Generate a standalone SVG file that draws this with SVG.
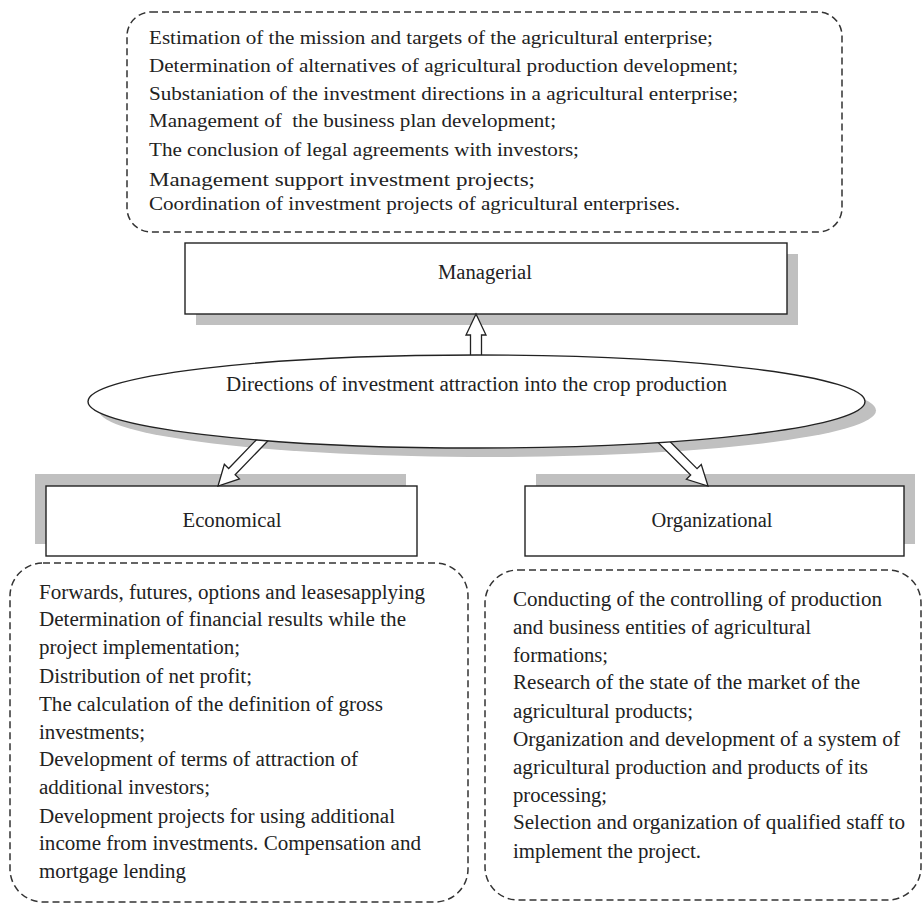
<svg xmlns="http://www.w3.org/2000/svg" width="923" height="905" viewBox="0 0 923 905">
<style>
  .t { font-family: "Liberation Serif", "Times New Roman", serif; fill: #222; }
  .s19 { font-size: 19px; }
  .s20 { font-size: 20px; }
  .dash { fill: #fff; stroke: #333; stroke-width: 1.5; stroke-dasharray: 7 4; }
  .box { fill: #fff; stroke: #222; stroke-width: 1.4; }
  .shadow { fill: #c0c0c0; stroke: none; }
  .arrow { fill: #fff; stroke: #222; stroke-width: 1.3; stroke-linejoin: miter; }
</style>
<rect width="923" height="905" fill="#fff"/>

<g id="shadows">
  <rect class="shadow" x="196" y="254" width="602" height="71"/>
  <rect class="shadow" x="35" y="474" width="371" height="70"/>
  <rect class="shadow" x="536" y="474" width="379" height="70"/>
  <ellipse class="shadow" cx="487.5" cy="410.5" rx="388.5" ry="46.5"/>
</g>

<g id="managerial-list">
  <rect class="dash" x="127" y="12" width="715" height="220" rx="24" ry="24"/>
  <text class="t s19" x="149" y="44" textLength="564" lengthAdjust="spacingAndGlyphs">Estimation of the mission and targets of the agricultural enterprise;</text>
  <text class="t s19" x="149" y="72" textLength="589" lengthAdjust="spacingAndGlyphs">Determination of alternatives of agricultural production development;</text>
  <text class="t s19" x="149" y="100" textLength="589" lengthAdjust="spacingAndGlyphs">Substaniation of the investment directions in a agricultural enterprise;</text>
  <text class="t s19" x="149" y="127" textLength="407" lengthAdjust="spacingAndGlyphs" xml:space="preserve">Management of  the business plan development;</text>
  <text class="t s19" x="149" y="156" textLength="430" lengthAdjust="spacingAndGlyphs">The conclusion of legal agreements with investors;</text>
  <text class="t s19" x="149" y="186" textLength="386" lengthAdjust="spacingAndGlyphs">Management support investment projects;</text>
  <text class="t s19" x="149" y="210" textLength="531" lengthAdjust="spacingAndGlyphs">Coordination of investment projects of agricultural enterprises.</text>
</g>

<g id="managerial">
  <rect class="box" x="185" y="243" width="602" height="71"/>
  <text class="t s20" x="485" y="279" text-anchor="middle" textLength="94" lengthAdjust="spacingAndGlyphs">Managerial</text>
</g>

<g id="economical">
  <rect class="box" x="46" y="486" width="371" height="70"/>
  <text class="t s20" x="232" y="527" text-anchor="middle" textLength="99" lengthAdjust="spacingAndGlyphs">Economical</text>
</g>

<g id="organizational">
  <rect class="box" x="525" y="486" width="379" height="70"/>
  <text class="t s20" x="712" y="527" text-anchor="middle" textLength="121" lengthAdjust="spacingAndGlyphs">Organizational</text>
</g>

<g id="economical-list">
  <rect class="dash" x="10" y="563" width="458" height="339" rx="33" ry="33"/>
  <text class="t s20" x="39" y="599" textLength="386" lengthAdjust="spacingAndGlyphs">Forwards, futures, options and leasesapplying</text>
  <text class="t s20" x="39" y="626" textLength="367" lengthAdjust="spacingAndGlyphs">Determination of financial results while the</text>
  <text class="t s20" x="39" y="654" textLength="201" lengthAdjust="spacingAndGlyphs">project implementation;</text>
  <text class="t s20" x="39" y="683" textLength="213" lengthAdjust="spacingAndGlyphs">Distribution of net profit;</text>
  <text class="t s20" x="39" y="711" textLength="344" lengthAdjust="spacingAndGlyphs">The calculation of the definition of gross</text>
  <text class="t s20" x="39" y="739" textLength="106" lengthAdjust="spacingAndGlyphs">investments;</text>
  <text class="t s20" x="39" y="766" textLength="319" lengthAdjust="spacingAndGlyphs">Development of terms of attraction of</text>
  <text class="t s20" x="39" y="794" textLength="171" lengthAdjust="spacingAndGlyphs">additional investors;</text>
  <text class="t s20" x="39" y="823" textLength="356" lengthAdjust="spacingAndGlyphs">Development projects for using additional</text>
  <text class="t s20" x="39" y="850" textLength="382" lengthAdjust="spacingAndGlyphs">income from investments. Compensation and</text>
  <text class="t s20" x="39" y="878" textLength="147" lengthAdjust="spacingAndGlyphs">mortgage lending</text>
</g>

<g id="organizational-list">
  <rect class="dash" x="485" y="570" width="436" height="330" rx="33" ry="33"/>
  <text class="t s20" x="513" y="606" textLength="369" lengthAdjust="spacingAndGlyphs">Conducting of the controlling of production</text>
  <text class="t s20" x="513" y="634" textLength="298" lengthAdjust="spacingAndGlyphs">and business entities of agricultural</text>
  <text class="t s20" x="513" y="662" textLength="95" lengthAdjust="spacingAndGlyphs">formations;</text>
  <text class="t s20" x="513" y="689" textLength="347" lengthAdjust="spacingAndGlyphs">Research of the state of the market of the</text>
  <text class="t s20" x="513" y="718" textLength="180" lengthAdjust="spacingAndGlyphs">agricultural products;</text>
  <text class="t s20" x="513" y="746" textLength="387" lengthAdjust="spacingAndGlyphs">Organization and development of a system of</text>
  <text class="t s20" x="513" y="774" textLength="355" lengthAdjust="spacingAndGlyphs">agricultural production and products of its</text>
  <text class="t s20" x="513" y="802" textLength="94" lengthAdjust="spacingAndGlyphs">processing;</text>
  <text class="t s20" x="513" y="829" textLength="392" lengthAdjust="spacingAndGlyphs">Selection and organization of qualified staff to</text>
  <text class="t s20" x="513" y="858" textLength="188" lengthAdjust="spacingAndGlyphs">implement the project.</text>
</g>

<g id="connectors">
  <path class="arrow" d="M470.5,365 V335 H466 L476,314 L486,335 H481.5 V365 Z"/>
  <polygon class="arrow" transform="translate(218,486) rotate(134)" points="-75,-4.5 -20,-4.5 -20,-10.5 0,0 -20,10.5 -20,4.5 -75,4.5"/>
  <polygon class="arrow" transform="translate(708,486) rotate(45)" points="-75,-4.5 -20,-4.5 -20,-10.5 0,0 -20,10.5 -20,4.5 -75,4.5"/>
</g>

<g id="directions">
  <ellipse cx="476.5" cy="401.5" rx="388.5" ry="46.5" fill="#fff" stroke="#222" stroke-width="1.4"/>
  <text class="t s20" x="476.5" y="391" text-anchor="middle" textLength="501" lengthAdjust="spacingAndGlyphs">Directions of investment attraction into the crop production</text>
</g>
</svg>
